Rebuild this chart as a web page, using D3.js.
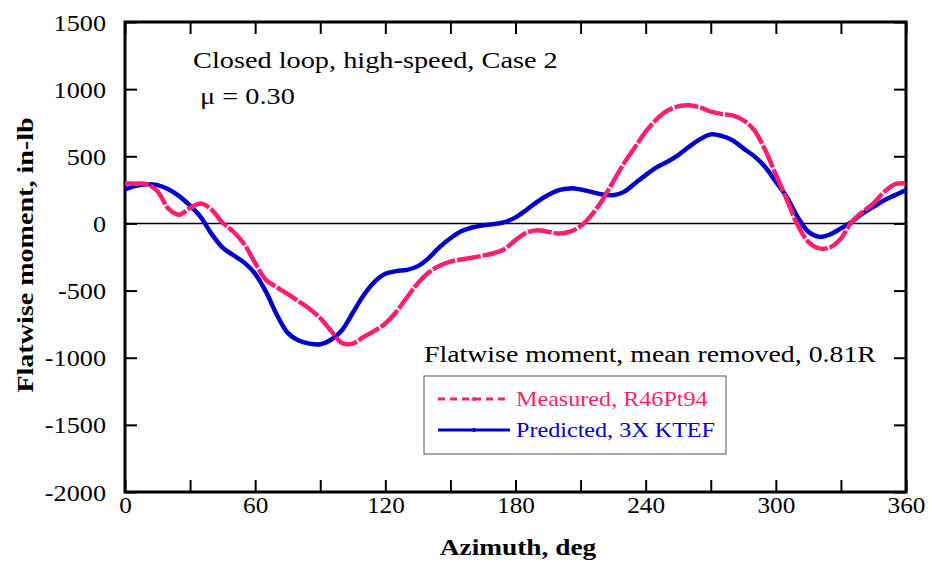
<!DOCTYPE html>
<html>
<head>
<meta charset="utf-8">
<script src="https://cdn.jsdelivr.net/npm/d3@7"></script>
<style>
  body { margin: 0; background: #fff; }
  svg text { font-family: "Liberation Serif", "Times New Roman", serif; fill: #000; }
</style>
</head>
<body>
<div id="chart"></div>
<script>
// Azimuth samples, deg
const azimuth = [0, 5, 10, 15, 20, 25, 30, 35, 40, 45, 50, 55, 60, 65, 70, 75, 80, 85, 90,
  95, 100, 105, 110, 115, 120, 125, 130, 135, 140, 145, 150, 155, 160, 165, 170, 175, 180,
  185, 190, 195, 200, 205, 210, 215, 220, 225, 230, 235, 240, 245, 250, 255, 260, 265, 270,
  275, 280, 285, 290, 295, 300, 305, 310, 315, 320, 325, 330, 335, 340, 345, 350, 355, 360];

// Measured, R46Pt94 (in-lb)
const measured = [298, 296, 293, 240, 110, 65, 115, 148, 100, 5, -62, -155, -295, -420, -475,
  -525, -580, -635, -705, -800, -890, -895, -845, -800, -745, -660, -550, -445, -365, -315,
  -285, -268, -255, -240, -222, -190, -124, -70, -50, -62, -75, -62, -20, 62, 173, 310, 447,
  565, 683, 775, 840, 872, 880, 865, 832, 815, 805, 770, 695, 550, 365, 180, -10, -137, -186,
  -178, -112, 12, 86, 149, 235, 293, 298];

// Predicted, 3X KTEF (in-lb)
const predicted = [253, 280, 292, 285, 255, 203, 132, 45, -80, -180, -237, -292, -375, -510,
  -680, -815, -872, -895, -900, -866, -795, -665, -535, -435, -375, -355, -346, -318, -258,
  -176, -110, -58, -30, -15, -5, 10, 45, 100, 161, 211, 248, 261, 253, 235, 216, 210, 235,
  298, 360, 417, 459, 509, 571, 626, 663, 652, 620, 559, 501, 422, 310, 198, 49, -62, -100,
  -82, -37, 12, 74, 124, 173, 211, 248];

const xTicks = [0, 30, 60, 90, 120, 150, 180, 210, 240, 270, 300, 330, 360];
const yTicks = [-2000, -1500, -1000, -500, 0, 500, 1000, 1500];

const seriesNames = ["Measured, R46Pt94", "Predicted, 3X KTEF"];
const colors = ["#ff1f6e", "#0000cc"];

const width = 932, height = 567;
const margin = {top: 22, right: 26, bottom: 75, left: 125};
const innerW = width - margin.left - margin.right;
const innerH = height - margin.top - margin.bottom;

const svg = d3.select("#chart").append("svg")
  .attr("width", width)
  .attr("height", height);

const chart = svg.append("g")
  .attr("transform", `translate(${margin.left},${margin.top})`);

const xScale = d3.scaleLinear().domain([0, 360]).range([0, innerW]);
const yScale = d3.scaleLinear().domain([-2000, 1500]).range([innerH, 0]);

// text helper, horizontally widened like the original typeface
function label(parent, x, y, txt, opts = {}) {
  return parent.append("text")
    .attr("transform", `translate(${x},${y}) scale(${opts.sx || 1.2},1)`)
    .attr("text-anchor", opts.anchor || "start")
    .style("font-size", (opts.size || 21) + "px")
    .style("font-weight", opts.bold ? "bold" : null)
    .style("fill", opts.color || "#000")
    .text(txt);
}

// zero line
chart.append("line")
  .attr("x1", 0).attr("x2", innerW)
  .attr("y1", yScale(0)).attr("y2", yScale(0))
  .attr("stroke", "#000").attr("stroke-width", 1.5);

// axes: inward ticks on all four sides
const xAxisB = d3.axisBottom(xScale).tickValues(xTicks).tickSize(-12).tickPadding(6)
  .tickFormat(d => d % 60 === 0 ? d : "");
const xAxisT = d3.axisTop(xScale).tickValues(xTicks).tickSize(-12).tickFormat("");
const yAxisL = d3.axisLeft(yScale).tickValues(yTicks).tickSize(-12).tickPadding(8)
  .tickFormat(d => d);
const yAxisR = d3.axisRight(yScale).tickValues(yTicks).tickSize(-12).tickFormat("");

const gxB = chart.append("g").attr("transform", `translate(0,${innerH})`).call(xAxisB);
chart.append("g").call(xAxisT);
const gyL = chart.append("g").call(yAxisL);
chart.append("g").attr("transform", `translate(${innerW},0)`).call(yAxisR);

chart.selectAll(".domain").remove();
chart.selectAll(".tick line").attr("stroke", "#000").attr("stroke-width", 2);

gxB.selectAll("text")
  .attr("y", null).attr("dy", null)
  .attr("transform", "translate(0,21) scale(1.1,1)")
  .style("font-size", "23px");
gyL.selectAll("text")
  .attr("x", null).attr("dy", null)
  .attr("transform", "translate(-19,8) scale(1.14,1)")
  .style("font-size", "23px");

// frame
chart.append("rect")
  .attr("width", innerW).attr("height", innerH)
  .attr("fill", "none").attr("stroke", "#000").attr("stroke-width", 3);

// lines
const line = (vals) => d3.line()
  .x((d, i) => xScale(azimuth[i]))
  .y(d => yScale(d))
  .curve(d3.curveCatmullRom)(vals);

chart.append("path")
  .attr("d", line(predicted))
  .attr("fill", "none")
  .attr("stroke", colors[1])
  .attr("stroke-width", 4.5);

chart.append("path")
  .attr("d", line(measured))
  .attr("fill", "none")
  .attr("stroke", colors[0])
  .attr("stroke-width", 4.5)
  .attr("stroke-dasharray", "24,2");

// axis titles
label(svg, 518, 555, "Azimuth, deg", {anchor: "middle", bold: true, size: 24, sx: 1.14});
svg.append("text")
  .attr("transform", `translate(33,255) rotate(-90) scale(1.17,1)`)
  .attr("text-anchor", "middle")
  .style("font-size", "24px")
  .style("font-weight", "bold")
  .text("Flatwise moment, in-lb");

// annotations
label(svg, 193, 68, "Closed loop, high-speed, Case 2", {size: 24, sx: 1.18});
label(svg, 200, 104, "\u03bc = 0.30", {size: 24, sx: 1.18});
label(svg, 424, 362, "Flatwise moment, mean removed, 0.81R", {size: 23, sx: 1.21});

// legend
const legend = svg.append("g");
legend.append("rect")
  .attr("x", 424).attr("y", 376).attr("width", 302).attr("height", 78)
  .attr("fill", "#fff").attr("stroke", "#555").attr("stroke-width", 1);

seriesNames.forEach((name, i) => {
  const ly = 399 + i * 31;
  legend.append("line")
    .attr("x1", 438).attr("x2", 510).attr("y1", ly).attr("y2", ly)
    .attr("stroke", colors[i]).attr("stroke-width", 3)
    .attr("stroke-dasharray", i === 0 ? "7,5" : null);
  legend.append("circle")
    .attr("cx", 474).attr("cy", ly).attr("r", 2)
    .attr("fill", colors[i]);
  label(legend, 516, ly + 7, name, {size: 21, color: colors[i], sx: 1.15});
});
</script>
</body>
</html>
